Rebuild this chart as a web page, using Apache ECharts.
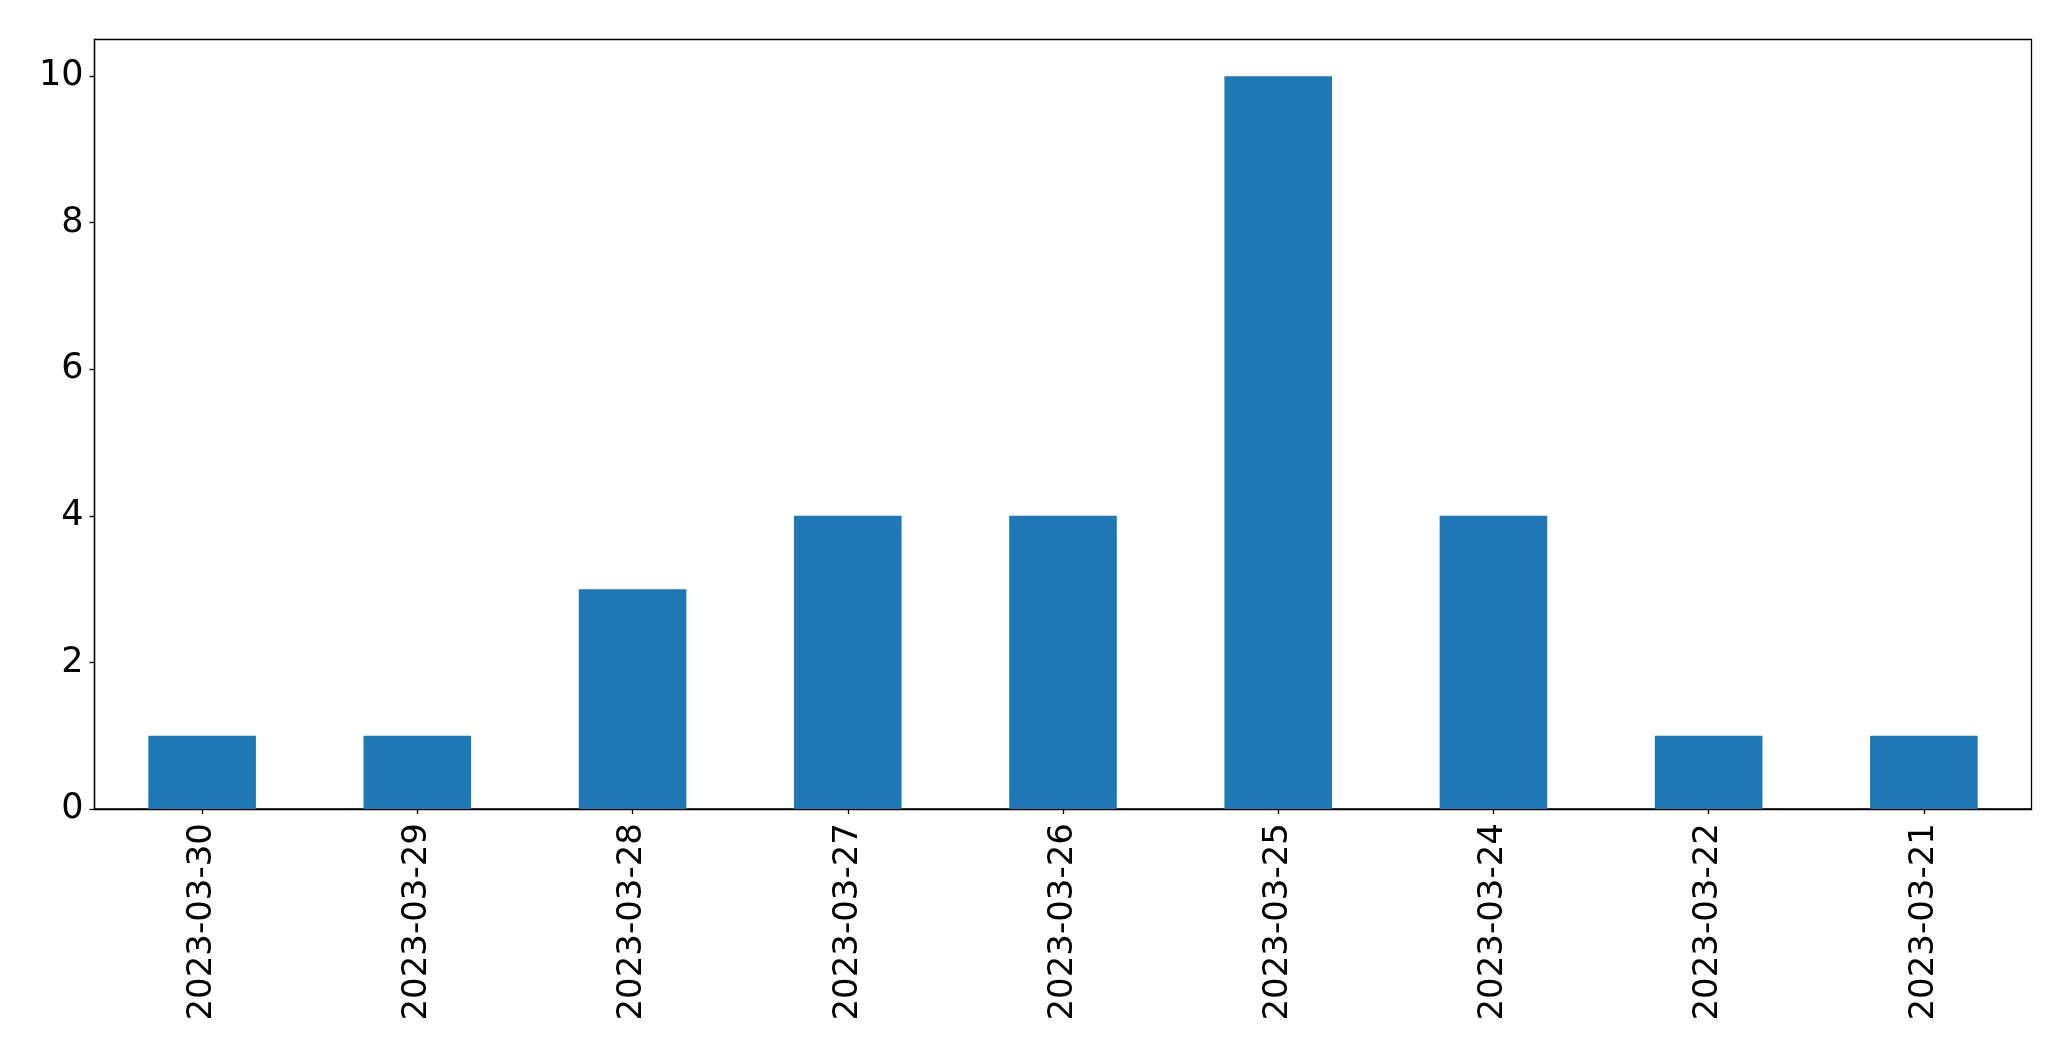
<!DOCTYPE html>
<html>
<head>
<meta charset="utf-8">
<script src="https://cdn.jsdelivr.net/npm/echarts@6/dist/echarts.min.js"></script>
<style>
html,body{margin:0;padding:0;background:#fff;}
#chart{width:2071px;height:1061px;}
</style>
</head>
<body>
<div id="chart"></div>
<script>
const categories = ["2023-03-30","2023-03-29","2023-03-28","2023-03-27","2023-03-26","2023-03-25","2023-03-24","2023-03-22","2023-03-21"];
const counts = [1, 1, 3, 4, 4, 10, 4, 1, 1];
const yTicks = [0, 2, 4, 6, 8, 10];

const chart = echarts.init(document.getElementById('chart'), null, {renderer: 'canvas'});
const font = 'DejaVu Sans';
chart.setOption({
  animation: false,
  backgroundColor: '#ffffff',
  grid: {
    left: 94.5, right: 39.5, top: 39.5, bottom: 252,
    show: true, borderColor: '#000000', borderWidth: 1.3, backgroundColor: 'transparent'
  },
  xAxis: {
    type: 'category',
    data: categories,
    boundaryGap: true,
    axisLine: {show: true, lineStyle: {color: '#000', width: 1.3}},
    axisTick: {show: true, alignWithLabel: true, length: 5, lineStyle: {color: '#000', width: 1.3}},
    axisLabel: {rotate: 90, color: '#000', fontFamily: font, fontSize: 34, margin: 14, interval: 0},
    splitLine: {show: false}
  },
  yAxis: {
    type: 'value',
    min: 0, max: 10.5, interval: 2,
    axisLine: {show: true, lineStyle: {color: '#000', width: 1.3}},
    axisTick: {show: true, length: 5, lineStyle: {color: '#000', width: 1.3}},
    axisLabel: {color: '#000', fontFamily: font, fontSize: 35, margin: 11, showMaxLabel: false,
      formatter: v => yTicks.includes(v) ? String(v) : ''},
    splitLine: {show: false}
  },
  series: [{
    type: 'bar',
    data: counts,
    barWidth: '50%',
    itemStyle: {color: '#1f77b4'}
  }]
});
</script>
</body>
</html>
